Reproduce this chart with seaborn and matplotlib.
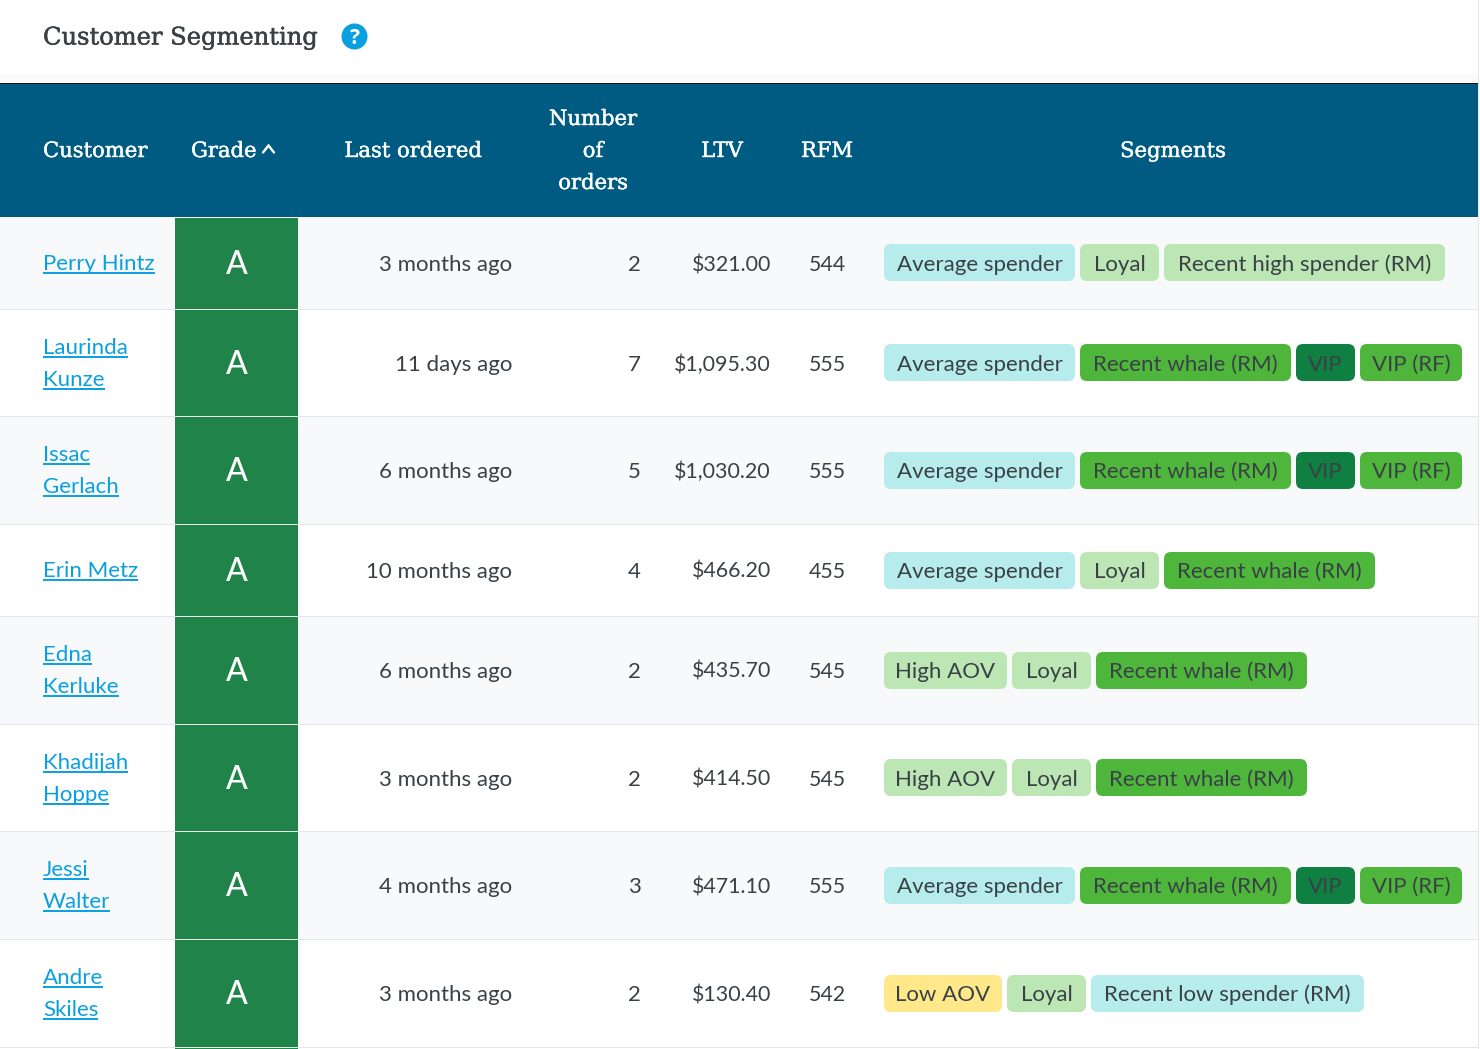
import numpy as np
import matplotlib
matplotlib.use("Agg")
import matplotlib.pyplot as plt
import matplotlib.patheffects as pe
from matplotlib.colors import ListedColormap
from matplotlib.patches import Rectangle, FancyBboxPatch, Circle
import seaborn as sns

# ---------- data ----------
title = "Customer Segmenting"
headers = ["Customer", "Grade", "Last ordered", "Number\nof\norders", "LTV", "RFM", "Segments"]
customers = [["Perry Hintz"], ["Laurinda", "Kunze"], ["Issac", "Gerlach"], ["Erin Metz"],
             ["Edna", "Kerluke"], ["Khadijah", "Hoppe"], ["Jessi", "Walter"], ["Andre", "Skiles"]]
grades = ["A", "A", "A", "A", "A", "A", "A", "A"]
last_ordered = ["3 months ago", "11 days ago", "6 months ago", "10 months ago",
                "6 months ago", "3 months ago", "4 months ago", "3 months ago"]
orders = [2, 7, 5, 4, 2, 2, 3, 2]
ltv = [321.00, 1095.30, 1030.20, 466.20, 435.70, 414.50, 471.10, 130.40]
rfm = [544, 555, 555, 455, 545, 545, 555, 542]
segments = [
    ["Average spender", "Loyal", "Recent high spender (RM)"],
    ["Average spender", "Recent whale (RM)", "VIP", "VIP (RF)"],
    ["Average spender", "Recent whale (RM)", "VIP", "VIP (RF)"],
    ["Average spender", "Loyal", "Recent whale (RM)"],
    ["High AOV", "Loyal", "Recent whale (RM)"],
    ["High AOV", "Loyal", "Recent whale (RM)"],
    ["Average spender", "Recent whale (RM)", "VIP", "VIP (RF)"],
    ["Low AOV", "Loyal", "Recent low spender (RM)"],
]

# ---------- styles ----------
C_HEAD = "#005B82"; C_GRADE = "#20834A"; C_LINK = "#0AA0E0"; C_TEXT = "#3A4146"
C_BAND = "#F8F9FB"; C_RULE = "#E4E6E9"
seg_colors = {"Average spender": "#B6ECEC", "Loyal": "#BCE6B4", "Recent high spender (RM)": "#BCE6B4",
              "Recent whale (RM)": "#4FB63C", "VIP": "#0F7F42", "VIP (RF)": "#4FB63C",
              "High AOV": "#BCE6B4", "Low AOV": "#FFE88A", "Recent low spender (RM)": "#B6ECEC"}
seg_widths = {"Average spender": 191, "Loyal": 79, "Recent high spender (RM)": 281,
              "Recent whale (RM)": 211, "VIP": 59, "VIP (RF)": 102,
              "High AOV": 123, "Low AOV": 118, "Recent low spender (RM)": 273}
row_edges = [217, 309, 416, 524, 616, 724, 831, 939, 1047]
row_mids = [263, 363, 470, 570, 670, 778, 885, 993]
pill_tops = [244, 344, 452, 552, 652, 759, 867, 975]
BODY = "Lato"; SLAB = "DejaVu Serif"
FS = 16.0; FS_MONEY = 15.4; W, H = 1480, 1049

sns.set_theme(style="white")
plt.rcParams["font.family"] = [BODY, "DejaVu Sans"]
fig = plt.figure(figsize=(W / 100, H / 100), dpi=100, facecolor="white")
ax = fig.add_axes([0, 0, 1, 1])
ax.set_xlim(0, W); ax.set_ylim(H, 0); ax.axis("off")


def embolden(width, color):
    return [pe.withStroke(linewidth=width, foreground=color)]


# title bar
ax.add_patch(Rectangle((0, 74), W - 2, 8, fc="#FAFAFA", ec="none"))
ax.text(43, 35.5, title, family=SLAB, size=17.4, color=C_TEXT, va="center_baseline", ha="left",
        path_effects=embolden(0.35, C_TEXT))
ax.add_patch(Circle((354.5, 36.5), 13, fc=C_LINK, ec="none"))
ax.text(354.5, 36.5, "?", color="white", size=15, weight="bold", ha="center", va="center_baseline", family="Open Sans")
ax.add_patch(Rectangle((0, 83), W - 2, 1, fc="#111111", ec="none"))
ax.add_patch(Rectangle((1478, 0), 1, H, fc=C_RULE, ec="none"))

# header band
ax.add_patch(Rectangle((0, 84), 1478, 133, fc=C_HEAD, ec="none"))
hdr_x = [(43, "left"), (191, "left"), (413, "center"), (593, "center"), (722, "center"), (827, "center"), (1173, "center")]
for label, (x, ha) in zip(headers, hdr_x):
    for j, line in enumerate(label.split("\n")):
        n = label.count("\n") + 1
        ax.text(x, 149.5 + (j - (n - 1) / 2) * 32, line, family=SLAB, size=15.2, color="white",
                ha=ha, va="center_baseline", path_effects=embolden(0.3, "white"))
ax.plot([263, 268.5, 274], [152.5, 145.5, 152.5], color="white", lw=1.7, solid_joinstyle="miter")

grade_rank = {g: i for i, g in enumerate("ABCDF")}
renderer = fig.canvas.get_renderer()

for i in range(len(customers)):
    top, bot = row_edges[i], row_edges[i + 1]
    mid = row_mids[i]
    base = mid + 8
    if i % 2 == 0:
        ax.add_patch(Rectangle((0, top + 1), 1478, bot - top - 1, fc=C_BAND, ec="none"))
    ax.add_patch(Rectangle((0, bot), 1478, 1, fc=C_RULE, ec="none"))

    # customer link(s)
    lines = customers[i]
    for j, line in enumerate(lines):
        y = mid + (j - (len(lines) - 1) / 2) * 32
        t = ax.text(43, y + 7, line, size=FS, color=C_LINK, ha="left", va="baseline")
        bb = t.get_window_extent(renderer)
        ax.plot([43, bb.x1], [y + 10, y + 10], color=C_LINK, lw=1.4, solid_capstyle="butt")

    # grade cell drawn with a one-cell heatmap
    cell_h = bot - top - 1
    cax = fig.add_axes([175 / W, 1 - bot / H, 123 / W, cell_h / H])
    sns.heatmap(np.array([[grade_rank[grades[i]]]]), annot=np.array([[grades[i]]]), fmt="",
                cmap=ListedColormap([C_GRADE]), cbar=False, xticklabels=False, yticklabels=False,
                annot_kws={"color": "white", "size": 23, "family": BODY, "weight": "medium"}, ax=cax)
    cax.texts[0].set_y(0.5 + (mid - (top + 1 + cell_h / 2) + 2) / cell_h)

    # numbers
    ax.text(512, base, last_ordered[i], size=FS, color=C_TEXT, ha="right", va="baseline")
    ax.text(641, base, str(orders[i]), size=FS, color=C_TEXT, ha="right", va="baseline")
    ax.text(771, base, f"${ltv[i]:,.2f}", size=FS_MONEY, color=C_TEXT, ha="right", va="baseline")
    ax.text(827, base, str(rfm[i]), size=FS_MONEY, color=C_TEXT, ha="center", va="baseline")

    # segment pills
    x = 884
    for seg in segments[i]:
        w = seg_widths[seg]
        ax.add_patch(FancyBboxPatch((x + 7, pill_tops[i] + 7), w - 14, 37 - 14,
                                    boxstyle="round,pad=7,rounding_size=7",
                                    fc=seg_colors[seg], ec="none"))
        ax.text(x + w / 2, base, seg, size=FS, color=C_TEXT, ha="center", va="baseline")
        x += w + 5

# next row's grade cell peeks in below the last rule
ax.add_patch(Rectangle((175, 1048), 123, 1, fc=C_GRADE, ec="none"))

fig.savefig("out.png", dpi=100)
